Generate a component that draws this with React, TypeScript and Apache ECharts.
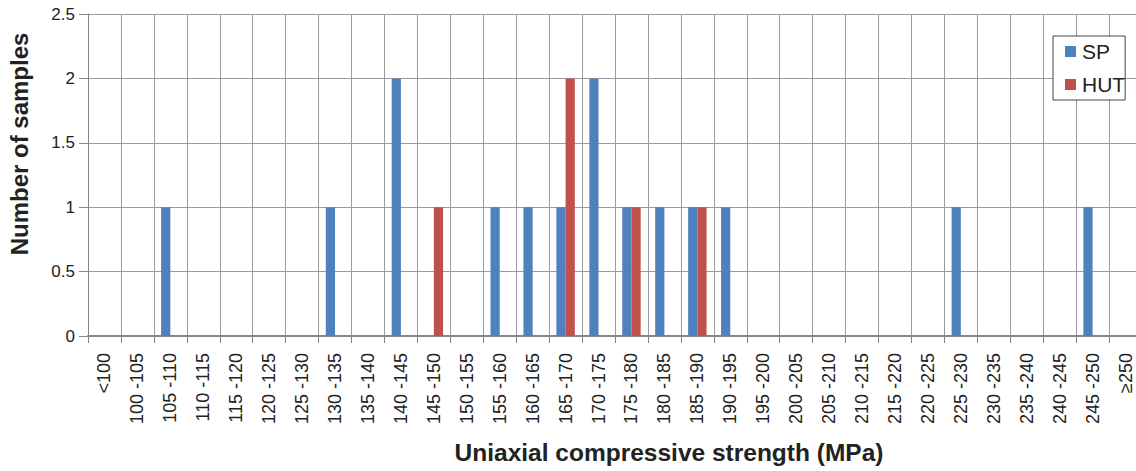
import React, { useEffect, useRef } from "react";
import * as echarts from "echarts";

const categories = [
  "<100", "100 -105", "105 -110", "110 -115", "115 -120", "120 -125", "125 -130", "130 -135",
  "135 -140", "140 -145", "145 -150", "150 -155", "155 -160", "160 -165", "165 -170", "170 -175",
  "175 -180", "180 -185", "185 -190", "190 -195", "195 -200", "200 -205", "205 -210", "210 -215",
  "215 -220", "220 -225", "225 -230", "230 -235", "235 -240", "240 -245", "245 -250", "≥250",
];

const spValues = [
  0, 0, 1, 0, 0, 0, 0, 1,
  0, 2, 0, 0, 1, 1, 1, 2,
  1, 1, 1, 1, 0, 0, 0, 0,
  0, 0, 1, 0, 0, 0, 1, 0,
];

const hutValues = [
  0, 0, 0, 0, 0, 0, 0, 0,
  0, 0, 1, 0, 0, 0, 2, 0,
  1, 0, 1, 0, 0, 0, 0, 0,
  0, 0, 0, 0, 0, 0, 0, 0,
];

const seriesNames = ["SP", "HUT"];
const seriesColors = ["#4F81BD", "#C0504D"];

const FONT = "'Liberation Sans', Arial, sans-serif";

export default function App() {
  const ref = useRef<HTMLDivElement>(null);

  useEffect(() => {
    document.body.style.margin = "0";
    if (!ref.current) return;
    const chart = echarts.init(ref.current, undefined, { renderer: "svg" });
    chart.setOption({
      animation: false,
      backgroundColor: "#ffffff",
      textStyle: { fontFamily: FONT },
      grid: {
        left: 88,
        top: 14,
        width: 1054,
        height: 322,
        containLabel: false,
        outerBoundsMode: "none",
      },
      legend: {
        orient: "vertical",
        left: 1053,
        top: 36,
        padding: [5, 0, 5, 12],
        itemWidth: 11,
        itemHeight: 11,
        itemGap: 12,
        backgroundColor: "#ffffff",
        borderColor: "#444444",
        borderWidth: 1,
        icon: "rect",
        textStyle: { fontSize: 21, color: "#222222", fontFamily: FONT, padding: [0, 0, 0, 1], lineHeight: 21 },
        data: seriesNames,
      },
      xAxis: {
        type: "category",
        data: categories,
        boundaryGap: true,
        name: "Uniaxial compressive strength (MPa)",
        nameLocation: "middle",
        nameGap: 104,
        nameTextStyle: {
          fontSize: 24.5,
          fontWeight: "bold",
          color: "#222222",
          fontFamily: FONT,
          padding: [0, 0, 0, 108],
        },
        axisLine: { show: true, lineStyle: { color: "#868686", width: 2 } },
        axisTick: { show: true, interval: 0, length: 7, lineStyle: { color: "#868686" } },
        axisLabel: {
          interval: 0,
          rotate: 90,
          fontSize: 18,
          color: "#222222",
          margin: 17,
          fontFamily: FONT,
        },
        splitLine: { show: true, interval: 0, lineStyle: { color: "#9a9a9a", width: 1 } },
      },
      yAxis: {
        type: "value",
        min: 0,
        max: 2.5,
        interval: 0.5,
        name: "Number of samples",
        nameLocation: "middle",
        nameGap: 57,
        nameTextStyle: {
          fontSize: 24,
          fontWeight: "bold",
          color: "#222222",
          fontFamily: FONT,
          padding: [0, 0, 0, 62],
        },
        axisLine: { show: true, lineStyle: { color: "#868686", width: 1 } },
        axisTick: { show: true, length: 9, lineStyle: { color: "#868686" } },
        axisLabel: { fontSize: 17, color: "#222222", margin: 13, fontFamily: FONT },
        splitLine: { show: true, lineStyle: { color: "#9a9a9a", width: 1 } },
      },
      series: [
        {
          name: seriesNames[0],
          type: "bar",
          data: spValues,
          itemStyle: { color: seriesColors[0] },
          barGap: "0%",
          barCategoryGap: "44%",
        },
        {
          name: seriesNames[1],
          type: "bar",
          data: hutValues,
          itemStyle: { color: seriesColors[1] },
          barGap: "0%",
          barCategoryGap: "44%",
        },
      ],
    });
    return () => chart.dispose();
  }, []);

  return <div ref={ref} style={{ width: 1136, height: 471 }} />;
}
